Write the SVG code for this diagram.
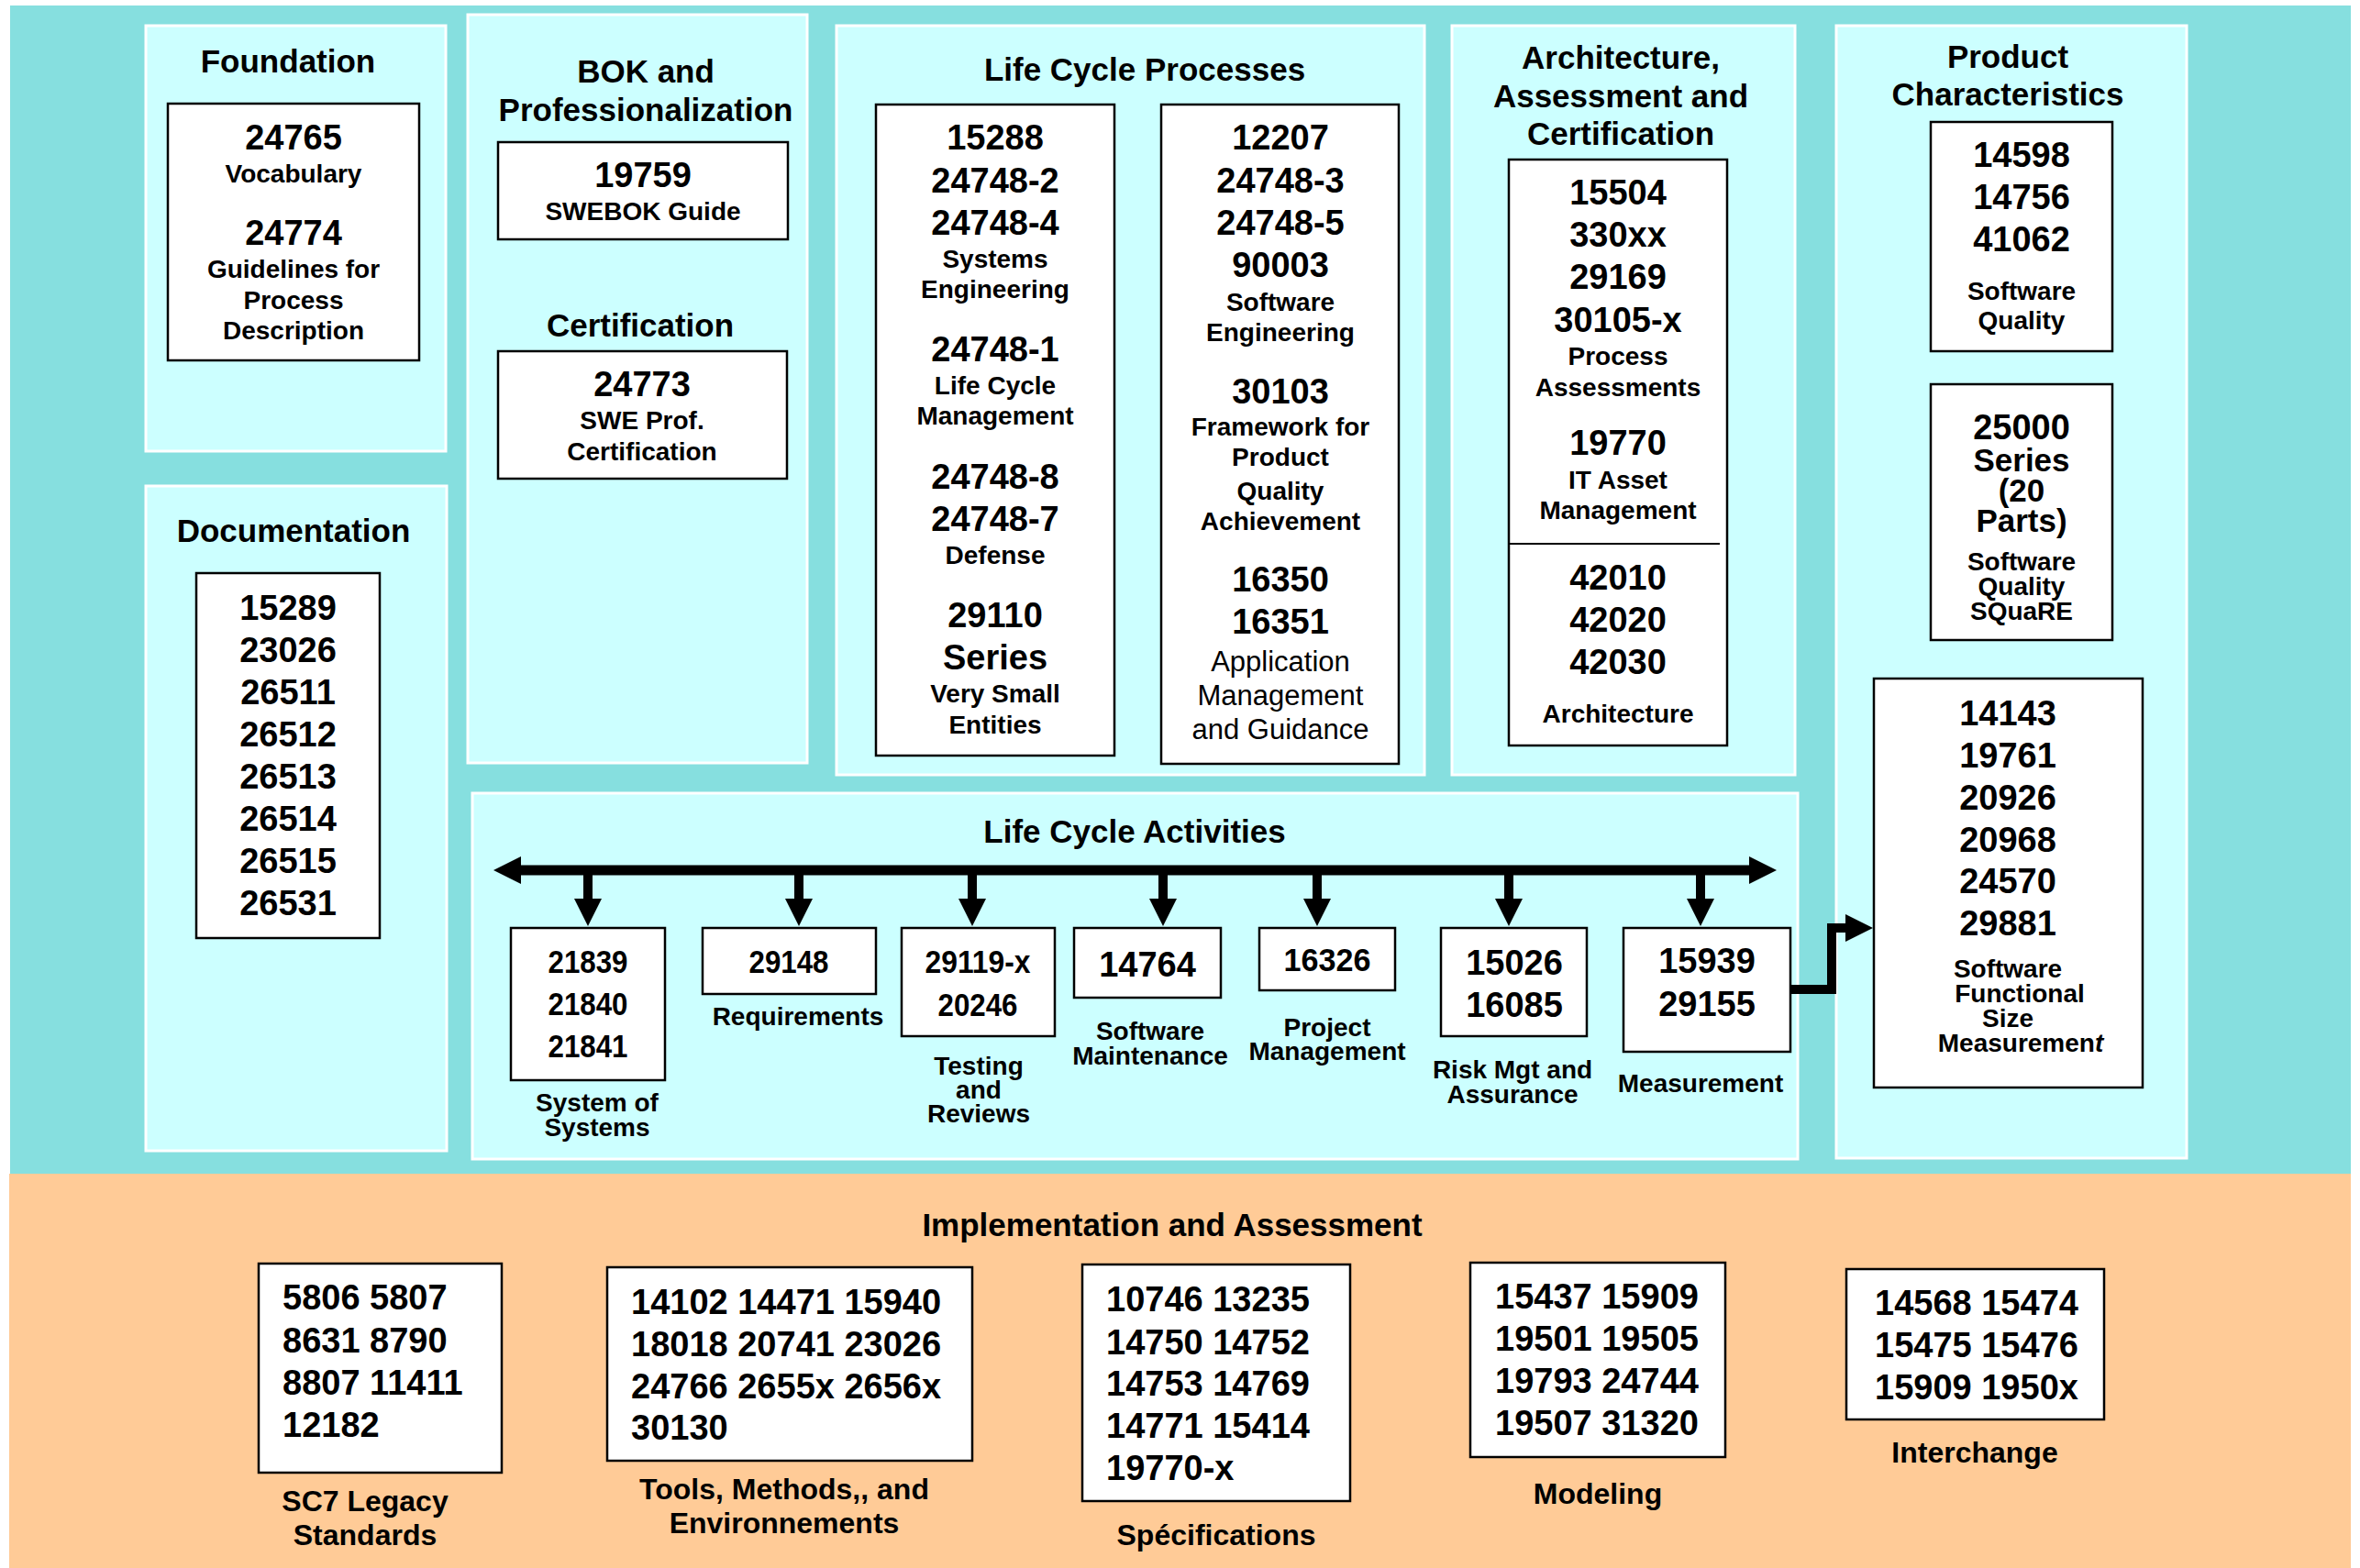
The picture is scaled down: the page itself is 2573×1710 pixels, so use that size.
<svg xmlns="http://www.w3.org/2000/svg" width="2573" height="1710" viewBox="0 0 2573 1710">
<style>
text{font-family:"Liberation Sans",Arial,Helvetica,sans-serif;font-weight:bold;fill:#000;text-anchor:middle}
.ttl{font-size:35px}
.num{font-size:38px}
.lab{font-size:28px}
.reg{font-size:31px;font-weight:normal}
.nar{font-size:35px}
.bl{font-size:32px}
.bn{font-size:38px;text-anchor:start}
.panel{fill:#CCFFFF;stroke:#FFFFFF;stroke-width:3}
.box{fill:#FFFFFF;stroke:#000;stroke-width:2.5}
.wire{fill:none;stroke:#000;stroke-linejoin:miter}
</style>
<defs>
<marker id="ah" viewBox="0 0 30 30" markerWidth="30" markerHeight="30" refX="2" refY="15" orient="auto-start-reverse" markerUnits="userSpaceOnUse">
<path d="M0,0 L30,15 L0,30 z" fill="#000"/>
</marker>
</defs>
<rect x="0" y="0" width="2573" height="1710" fill="#FFFFFF"/>
<rect x="11" y="6" width="2552" height="1275" fill="#86DFDF"/>
<rect x="10" y="1280" width="2553" height="430" fill="#FFCB97"/>

<g id="foundation">
<rect class="panel" x="159" y="28" width="327" height="464"/>
<text class="ttl" x="314" y="79">Foundation</text>
<rect class="box" x="183" y="113" width="274" height="280"/>
<text class="num" x="320" y="163">24765</text>
<text class="lab" x="320" y="199">Vocabulary</text>
<text class="num" x="320" y="267">24774</text>
<text class="lab" x="320" y="303">Guidelines for</text>
<text class="lab" x="320" y="337">Process</text>
<text class="lab" x="320" y="370">Description</text>
</g>

<g id="bok">
<rect class="panel" x="510" y="16" width="370" height="816"/>
<text class="ttl" x="704" y="90">BOK and</text>
<text class="ttl" x="704" y="132">Professionalization</text>
<rect class="box" x="543" y="155" width="316" height="106"/>
<text class="num" x="701" y="204">19759</text>
<text class="lab" x="701" y="240">SWEBOK Guide</text>
<text class="ttl" x="698" y="367">Certification</text>
<rect class="box" x="543" y="383" width="315" height="139"/>
<text class="num" x="700" y="432">24773</text>
<text class="lab" x="700" y="468">SWE Prof.</text>
<text class="lab" x="700" y="502">Certification</text>
</g>

<g id="lifecycle-processes">
<rect class="panel" x="912" y="28" width="641" height="817"/>
<text class="ttl" x="1248" y="88">Life Cycle Processes</text>
<rect class="box" x="955" y="114" width="260" height="710"/>
<text class="num" x="1085" y="163">15288</text>
<text class="num" x="1085" y="210">24748-2</text>
<text class="num" x="1085" y="256">24748-4</text>
<text class="lab" x="1085" y="292">Systems</text>
<text class="lab" x="1085" y="325">Engineering</text>
<text class="num" x="1085" y="394">24748-1</text>
<text class="lab" x="1085" y="430">Life Cycle</text>
<text class="lab" x="1085" y="463">Management</text>
<text class="num" x="1085" y="533">24748-8</text>
<text class="num" x="1085" y="579">24748-7</text>
<text class="lab" x="1085" y="615">Defense</text>
<text class="num" x="1085" y="684">29110</text>
<text class="num" x="1085" y="730">Series</text>
<text class="lab" x="1085" y="766">Very Small</text>
<text class="lab" x="1085" y="800">Entities</text>
<rect class="box" x="1266" y="114" width="259" height="719"/>
<text class="num" x="1396" y="163">12207</text>
<text class="num" x="1396" y="210">24748-3</text>
<text class="num" x="1396" y="256">24748-5</text>
<text class="num" x="1396" y="302">90003</text>
<text class="lab" x="1396" y="339">Software</text>
<text class="lab" x="1396" y="372">Engineering</text>
<text class="num" x="1396" y="440">30103</text>
<text class="lab" x="1396" y="475">Framework for</text>
<text class="lab" x="1396" y="508">Product</text>
<text class="lab" x="1396" y="545">Quality</text>
<text class="lab" x="1396" y="578">Achievement</text>
<text class="num" x="1396" y="645">16350</text>
<text class="num" x="1396" y="691">16351</text>
<text class="reg" x="1396" y="732">Application</text>
<text class="reg" x="1396" y="769">Management</text>
<text class="reg" x="1396" y="806">and Guidance</text>
</g>

<g id="architecture">
<rect class="panel" x="1583" y="28" width="374" height="817"/>
<text class="ttl" x="1767" y="75">Architecture,</text>
<text class="ttl" x="1767" y="117">Assessment and</text>
<text class="ttl" x="1767" y="158">Certification</text>
<rect class="box" x="1645" y="174" width="238" height="639"/>
<text class="num" x="1764" y="223">15504</text>
<text class="num" x="1764" y="269">330xx</text>
<text class="num" x="1764" y="315">29169</text>
<text class="num" x="1764" y="362">30105-x</text>
<text class="lab" x="1764" y="398">Process</text>
<text class="lab" x="1764" y="432">Assessments</text>
<text class="num" x="1764" y="496">19770</text>
<text class="lab" x="1764" y="533">IT Asset</text>
<text class="lab" x="1764" y="566">Management</text>
<line x1="1645" y1="593" x2="1875" y2="593" stroke="#000" stroke-width="2"/>
<text class="num" x="1764" y="643">42010</text>
<text class="num" x="1764" y="689">42020</text>
<text class="num" x="1764" y="735">42030</text>
<text class="lab" x="1764" y="788">Architecture</text>
</g>

<g id="product">
<rect class="panel" x="2002" y="28" width="382" height="1235"/>
<text class="ttl" x="2189" y="74">Product</text>
<text class="ttl" x="2189" y="115">Characteristics</text>
<rect class="box" x="2105" y="133" width="198" height="250"/>
<text class="num" x="2204" y="182">14598</text>
<text class="num" x="2204" y="228">14756</text>
<text class="num" x="2204" y="274">41062</text>
<text class="lab" x="2204" y="327">Software</text>
<text class="lab" x="2204" y="359">Quality</text>
<rect class="box" x="2105" y="419" width="198" height="279"/>
<text class="num" x="2204" y="479">25000</text>
<text class="ttl" x="2204" y="514">Series</text>
<text class="ttl" x="2204" y="547">(20</text>
<text class="ttl" x="2204" y="580">Parts)</text>
<text class="lab" x="2204" y="622">Software</text>
<text class="lab" x="2204" y="649">Quality</text>
<text class="lab" x="2204" y="676">SQuaRE</text>
<rect class="box" x="2043" y="740" width="293" height="446"/>
<text class="num" x="2189" y="791">14143</text>
<text class="num" x="2189" y="837">19761</text>
<text class="num" x="2189" y="883">20926</text>
<text class="num" x="2189" y="929">20968</text>
<text class="num" x="2189" y="974">24570</text>
<text class="num" x="2189" y="1020">29881</text>
<text class="lab" x="2189" y="1066">Software</text>
<text class="lab" x="2202" y="1093">Functional</text>
<text class="lab" x="2189" y="1120">Size</text>
<text class="lab" x="2203" y="1147">Measuremen<tspan font-style="italic">t</tspan></text>
</g>

<g id="documentation">
<rect class="panel" x="159" y="530" width="328" height="725"/>
<text class="ttl" x="320" y="591">Documentation</text>
<rect class="box" x="214" y="625" width="200" height="398"/>
<text class="num" x="314" y="676">15289</text>
<text class="num" x="314" y="722">23026</text>
<text class="num" x="314" y="768">26511</text>
<text class="num" x="314" y="814">26512</text>
<text class="num" x="314" y="860">26513</text>
<text class="num" x="314" y="906">26514</text>
<text class="num" x="314" y="952">26515</text>
<text class="num" x="314" y="998">26531</text>
</g>

<g id="lifecycle-activities">
<rect class="panel" x="515" y="865" width="1445" height="399"/>
<text class="ttl" x="1237" y="919">Life Cycle Activities</text>
</g>

<g id="act-sos">
<rect class="box" x="557" y="1012" width="168" height="166"/>
<text class="nar" x="641" y="1061" textLength="87" lengthAdjust="spacingAndGlyphs">21839</text>
<text class="nar" x="641" y="1107" textLength="87" lengthAdjust="spacingAndGlyphs">21840</text>
<text class="nar" x="641" y="1153" textLength="87" lengthAdjust="spacingAndGlyphs">21841</text>
<text class="lab" x="651" y="1212">System of</text>
<text class="lab" x="651" y="1239">Systems</text>
</g>
<g id="act-req">
<rect class="box" x="766" y="1012" width="189" height="72"/>
<text class="nar" x="860" y="1061" textLength="87" lengthAdjust="spacingAndGlyphs">29148</text>
<text class="lab" x="870" y="1118">Requirements</text>
</g>
<g id="act-test">
<rect class="box" x="983" y="1012" width="167" height="118"/>
<text class="nar" x="1066" y="1061" textLength="115" lengthAdjust="spacingAndGlyphs">29119-x</text>
<text class="nar" x="1066" y="1108" textLength="87" lengthAdjust="spacingAndGlyphs">20246</text>
<text class="lab" x="1067" y="1172">Testing</text>
<text class="lab" x="1067" y="1198">and</text>
<text class="lab" x="1067" y="1224">Reviews</text>
</g>
<g id="act-maint">
<rect class="box" x="1171" y="1012" width="160" height="76"/>
<text class="num" x="1251" y="1065">14764</text>
<text class="lab" x="1254" y="1134">Software</text>
<text class="lab" x="1254" y="1161">Maintenance</text>
</g>
<g id="act-pm">
<rect class="box" x="1373" y="1012" width="148" height="68"/>
<text class="nar" x="1447" y="1059" textLength="95" lengthAdjust="spacingAndGlyphs">16326</text>
<text class="lab" x="1447" y="1130">Project</text>
<text class="lab" x="1447" y="1156">Management</text>
</g>
<g id="act-risk">
<rect class="box" x="1571" y="1012" width="159" height="118"/>
<text class="num" x="1651" y="1063">15026</text>
<text class="num" x="1651" y="1109">16085</text>
<text class="lab" x="1649" y="1176">Risk Mgt and</text>
<text class="lab" x="1649" y="1203">Assurance</text>
</g>
<g id="act-meas">
<rect class="box" x="1770" y="1012" width="182" height="135"/>
<text class="num" x="1861" y="1061">15939</text>
<text class="num" x="1861" y="1108">29155</text>
<text class="lab" x="1854" y="1191">Measurement</text>
</g>

<g id="connectors">
<line class="wire" x1="566" y1="949" x2="1909" y2="949" stroke-width="11" marker-start="url(#ah)" marker-end="url(#ah)"/>
<line class="wire" x1="641" y1="949" x2="641" y2="982" stroke-width="10" marker-end="url(#ah)"/>
<line class="wire" x1="871" y1="949" x2="871" y2="982" stroke-width="10" marker-end="url(#ah)"/>
<line class="wire" x1="1060" y1="949" x2="1060" y2="982" stroke-width="10" marker-end="url(#ah)"/>
<line class="wire" x1="1268" y1="949" x2="1268" y2="982" stroke-width="10" marker-end="url(#ah)"/>
<line class="wire" x1="1436" y1="949" x2="1436" y2="982" stroke-width="10" marker-end="url(#ah)"/>
<line class="wire" x1="1645" y1="949" x2="1645" y2="982" stroke-width="10" marker-end="url(#ah)"/>
<line class="wire" x1="1854" y1="949" x2="1854" y2="982" stroke-width="10" marker-end="url(#ah)"/>
<polyline class="wire" points="1952,1079 1997,1079 1997,1012 2014,1012" stroke-width="10" marker-end="url(#ah)"/>
</g>

<g id="implementation">
<text class="ttl" x="1278" y="1348">Implementation and Assessment</text>
</g>
<g id="impl-legacy">
<rect class="box" x="282" y="1378" width="265" height="228"/>
<text class="bn" x="308" y="1428">5806 5807</text>
<text class="bn" x="308" y="1475">8631 8790</text>
<text class="bn" x="308" y="1521">8807 11411</text>
<text class="bn" x="308" y="1567">12182</text>
<text class="bl" x="398" y="1648">SC7 Legacy</text>
<text class="bl" x="398" y="1685">Standards</text>
</g>
<g id="impl-tools">
<rect class="box" x="662" y="1382" width="398" height="211"/>
<text class="bn" x="688" y="1433">14102 14471 15940</text>
<text class="bn" x="688" y="1479">18018 20741 23026</text>
<text class="bn" x="688" y="1525">24766 2655x 2656x</text>
<text class="bn" x="688" y="1570">30130</text>
<text class="bl" x="855" y="1635">Tools, Methods,, and</text>
<text class="bl" x="855" y="1672">Environnements</text>
</g>
<g id="impl-spec">
<rect class="box" x="1180" y="1379" width="292" height="258"/>
<text class="bn" x="1206" y="1430">10746 13235</text>
<text class="bn" x="1206" y="1477">14750 14752</text>
<text class="bn" x="1206" y="1522">14753 14769</text>
<text class="bn" x="1206" y="1568">14771 15414</text>
<text class="bn" x="1206" y="1614">19770-x</text>
<text class="bl" x="1326" y="1685">Spécifications</text>
</g>
<g id="impl-model">
<rect class="box" x="1603" y="1377" width="278" height="212"/>
<text class="bn" x="1630" y="1427">15437 15909</text>
<text class="bn" x="1630" y="1473">19501 19505</text>
<text class="bn" x="1630" y="1519">19793 24744</text>
<text class="bn" x="1630" y="1565">19507 31320</text>
<text class="bl" x="1742" y="1640">Modeling</text>
</g>
<g id="impl-inter">
<rect class="box" x="2013" y="1384" width="281" height="164"/>
<text class="bn" x="2044" y="1434">14568 15474</text>
<text class="bn" x="2044" y="1480">15475 15476</text>
<text class="bn" x="2044" y="1526">15909 1950x</text>
<text class="bl" x="2153" y="1595">Interchange</text>
</g>
</svg>
